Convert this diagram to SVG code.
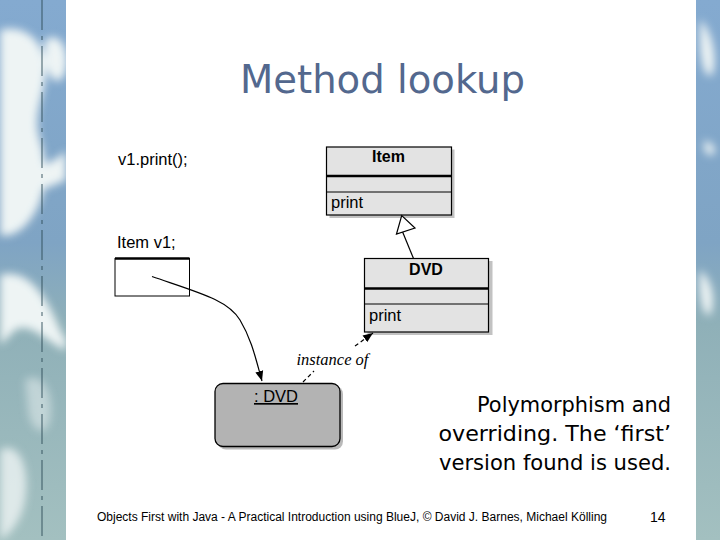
<svg xmlns="http://www.w3.org/2000/svg" width="720" height="540" viewBox="0 0 720 540">
<style>
.cls{fill:#e3e3e3;stroke:#000;stroke-width:1.2}
.sh{fill:#9a9a9a;opacity:0.6}
.hel{font-family:"Liberation Sans",Arial,sans-serif;fill:#000}
.bold{font-weight:bold}
.thick{stroke:#000;stroke-width:2.4}
.thin{stroke:#000;stroke-width:1}
.side{font-family:"DejaVu Sans","Noto Sans",sans-serif;font-size:21px;fill:#000;text-anchor:end}
.blob{fill:#eef4f4}
</style>
<defs>
<marker id="filled" viewBox="0 0 10 10" refX="10" refY="5" markerWidth="10" markerHeight="10" markerUnits="userSpaceOnUse" orient="auto"><path d="M0,1 L10,5 L0,9 Z" fill="#000"/></marker>
<linearGradient id="bgL" x1="0" y1="0" x2="0" y2="1"><stop offset="0" stop-color="#84aad0"/><stop offset="0.45" stop-color="#7fa4c4"/><stop offset="0.6" stop-color="#8fb0b8"/><stop offset="1" stop-color="#a3c0c0"/></linearGradient>
<filter id="blur" x="-50%" y="-50%" width="200%" height="200%"><feGaussianBlur stdDeviation="4"/></filter>
<clipPath id="clipL"><rect x="0" y="0" width="66" height="540"/></clipPath>
<clipPath id="clipR"><rect x="696" y="0" width="24" height="540"/></clipPath>
</defs>
<rect x="0" y="0" width="720" height="540" fill="#fff"/>
<g id="background">
<rect x="0" y="0" width="66" height="540" fill="url(#bgL)"/>
<rect x="696" y="0" width="24" height="540" fill="url(#bgL)"/>
<g clip-path="url(#clipL)" filter="url(#blur)">
<path class="blob" d="M0,30 C20,25 40,35 45,60 C50,90 30,110 40,140 C50,170 45,200 30,220 C15,240 0,235 0,235 Z"/>
<path class="blob" d="M45,40 C60,30 70,50 66,70 C60,90 48,80 45,60 Z"/>
<path class="blob" d="M25,175 C40,165 60,160 66,150 L66,180 C55,185 40,190 28,195 Z"/>
<path class="blob" d="M0,275 C20,270 40,280 60,330 L66,340 L66,350 C50,345 30,320 15,330 C5,340 0,345 0,345 Z"/>
<path class="blob" d="M0,450 C20,440 30,470 25,500 C20,530 0,540 0,540 Z" opacity="0.8"/>
<path class="blob" d="M25,380 C40,370 55,390 50,420 C45,440 30,430 28,410 Z" opacity="0.5"/>
</g>
<g clip-path="url(#clipR)" filter="url(#blur)">
<path class="blob" d="M700,20 C712,30 718,60 712,75 C705,80 700,60 700,40 Z"/>
<path class="blob" d="M700,270 C712,280 716,300 710,315 C702,318 698,290 700,270 Z"/>
<path class="blob" d="M705,140 C714,145 718,150 712,155 C705,156 703,148 705,140 Z"/>
</g>
<line x1="42" y1="0" x2="42" y2="540" stroke="#2f4f5a" stroke-width="1.3" stroke-dasharray="30,6,4,6" opacity="0.7"/>
</g>
<g id="title"><text x="382.5" y="92.5" text-anchor="middle" font-family="'DejaVu Sans','Noto Sans',sans-serif" font-size="39" fill="#53688e" textLength="285" lengthAdjust="spacingAndGlyphs">Method lookup</text></g>
<g id="code">
<text class="hel" x="118" y="165" font-size="16.5">v1.print();</text>
<text class="hel" x="117" y="248" font-size="16.5">Item v1;</text>
</g>
<g id="var-v1">
<rect x="115" y="258.5" width="74.5" height="37.5" fill="#fff" stroke="#000" stroke-width="1"/>
<line x1="115" y1="258.5" x2="189.5" y2="258.5" class="thick"/>
</g>
<g id="class-item">
<rect class="sh" x="329.5" y="149.5" width="125" height="68.5"/>
<rect class="cls" x="326.5" y="147" width="125" height="68"/>
<line x1="326.5" y1="176" x2="451.5" y2="176" class="thick"/>
<line x1="326.5" y1="192" x2="451.5" y2="192" class="thin"/>
<text class="hel bold" x="388.5" y="162" font-size="16" text-anchor="middle">Item</text>
<text class="hel" x="331" y="208" font-size="16.5">print</text>
</g>
<g id="class-dvd">
<rect class="sh" x="367.5" y="261" width="125" height="74"/>
<rect class="cls" x="364.5" y="258.5" width="124" height="73.5"/>
<line x1="364.5" y1="288.5" x2="488.5" y2="288.5" class="thick"/>
<line x1="364.5" y1="304" x2="488.5" y2="304" class="thin"/>
<text class="hel bold" x="426" y="274.5" font-size="16" text-anchor="middle">DVD</text>
<text class="hel" x="369" y="320.5" font-size="16.5">print</text>
</g>
<g id="object-dvd">
<rect x="218" y="386" width="125" height="63.5" rx="8" fill="#8a8a8a" opacity="0.6"/>
<rect x="215" y="383.5" width="125" height="63" rx="8" fill="#b3b3b3" stroke="#000" stroke-width="1.3"/>
<text class="hel" x="276" y="402" font-size="16.5" text-anchor="middle" text-decoration="underline">: DVD</text>
</g>
<g id="connectors" fill="none" stroke="#000">
<path d="M402,230.5 L413.5,258.5" stroke-width="1.2"/>
<path d="M396.5,234 L401.7,215.5 L415,228 Z" fill="#fff" stroke-width="1.2"/>
<path d="M152,276.5 C200,293 228,300 240,320 C252,340 256,360 262,381" stroke-width="1.2" marker-end="url(#filled)"/>
<path d="M303,382 L314,371" stroke-width="1.2" stroke-dasharray="4,3"/>
<path d="M355,346 L373,333" stroke-width="1.2" stroke-dasharray="4,3" marker-end="url(#filled)"/>
</g>
<g id="label-instance"><text x="296.5" y="365" font-family="'Liberation Serif','Times New Roman',serif" font-style="italic" font-size="16.5" fill="#000">instance of</text></g>
<g id="note">
<text class="side" x="671" y="412" textLength="194" lengthAdjust="spacingAndGlyphs">Polymorphism and</text>
<text class="side" x="671" y="441" textLength="232.5" lengthAdjust="spacingAndGlyphs">overriding. The ‘first’</text>
<text class="side" x="671" y="470" textLength="232" lengthAdjust="spacingAndGlyphs">version found is used.</text>
</g>
<g id="footer">
<text class="hel" x="97" y="521" font-size="12.5" textLength="510" lengthAdjust="spacingAndGlyphs">Objects First with Java - A Practical Introduction using BlueJ, © David J. Barnes, Michael Kölling</text>
<text class="hel" x="650" y="522" font-size="14">14</text>
</g>
</svg>
